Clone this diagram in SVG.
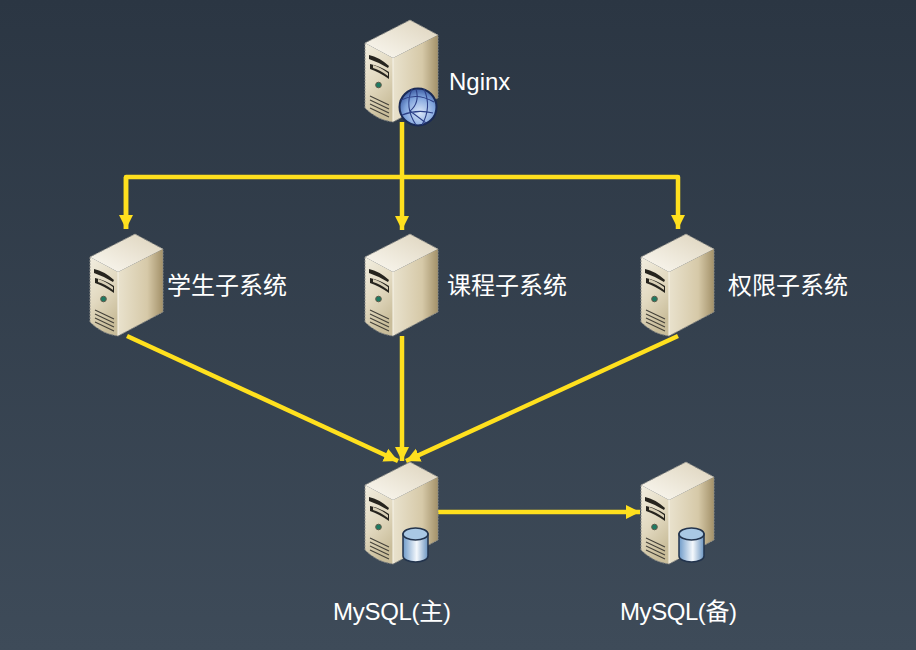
<svg xmlns="http://www.w3.org/2000/svg" width="916" height="650" viewBox="0 0 916 650">
<style>
.t{font-family:"Liberation Sans","Noto Sans CJK SC",sans-serif;font-size:24px;fill:#fff}
.c{fill:none;stroke:#ffe01e;stroke-width:4.500;stroke-linejoin:round}
.edge{fill:none;stroke:#8f8f8a;stroke-width:1;stroke-dasharray:2 1}
</style>
<defs>
<linearGradient id="bg" x1="0" y1="0" x2="0" y2="1"><stop offset="0" stop-color="#2b3643"/><stop offset="1" stop-color="#3e4b59"/></linearGradient>
<linearGradient id="front" x1="0" y1="0" x2="0.4" y2="1"><stop offset="0" stop-color="#f2eee0"/><stop offset="0.55" stop-color="#e2d9c0"/><stop offset="1" stop-color="#c9bd9a"/></linearGradient>
<linearGradient id="side" x1="0" y1="0" x2="1" y2="0"><stop offset="0" stop-color="#e9e2cd"/><stop offset="0.65" stop-color="#d6c9a8"/><stop offset="1" stop-color="#a39169"/></linearGradient>
<linearGradient id="top" x1="0" y1="1" x2="1" y2="0"><stop offset="0" stop-color="#fbf9f2"/><stop offset="1" stop-color="#ddd3bc"/></linearGradient>
<radialGradient id="globe" cx="0.55" cy="0.65" r="0.7"><stop offset="0" stop-color="#dbe7fa"/><stop offset="0.6" stop-color="#7fa3dc"/><stop offset="1" stop-color="#2c4a94"/></radialGradient>
<linearGradient id="cyl" x1="0" y1="0" x2="1" y2="0"><stop offset="0" stop-color="#6f9bc9"/><stop offset="0.55" stop-color="#f4f8fc"/><stop offset="1" stop-color="#6a94c0"/></linearGradient>
<marker id="a" markerUnits="userSpaceOnUse" markerWidth="15" markerHeight="15" refX="14" refY="7.500" orient="auto"><path d="M0 0.500L14 7.500L0 14.500Z" fill="#ffe01e"/></marker>
<g id="server">
<path d="M28 38L73 15V78L28 102Z" fill="url(#side)"/>
<path d="M0 23L28 38V102Q12 100 0 88Z" fill="url(#front)"/>
<path d="M0 23L45 0L73 15L28 38Z" fill="url(#top)"/>
<path d="M28 38V102" stroke="#f7f4ea" stroke-width="1"/>
<path class="edge" d="M0 23L45 0L73 15V78L28 102Q12 100 0 88Z"/>
<path d="M4 35Q14 37 24 46L23 48Q13 42 4 39ZM5 44Q15 46 24 52V59Q14 52 5 49Z" fill="#26241e"/>
<path d="M8 45Q15 47 23 53V56Q15 50 8 48Z" fill="#d8cfb6"/>
<circle cx="13.500" cy="65" r="2.800" fill="#1e7a62" stroke="#5e5b4a"/>
<path d="M5 76L24 85M5 80L24 89M5 84L24 93M5 88L24 97" fill="none" stroke="#45423a" stroke-width="1.100"/>
</g>
<g id="globeIcon">
<circle cx="53" cy="87" r="18.500" fill="url(#globe)" stroke="#1a2a55" stroke-width="2"/>
<path d="M36 80Q52 72 69 82M37 95Q52 89 68 93M47 69Q39 87 51 105M59 69Q67 87 57 105M51 69Q55 83 45 91Q53 97 61 103" fill="none" stroke="#2c3f86" stroke-width="1.100"/>
</g>
<g id="dbIcon">
<path d="M38 72V94A12.500 6 0 0 0 63 94V72Z" fill="url(#cyl)" stroke="#22334c" stroke-width="1.500"/>
<ellipse cx="50.500" cy="72" rx="12.500" ry="6" fill="#a9c8e4" stroke="#22334c" stroke-width="1.500"/>
</g>
</defs>
<rect width="916" height="650" fill="url(#bg)"/>
<g id="connectors">
<path class="c" d="M402 122V230" marker-end="url(#a)"/>
<path class="c" d="M126 229V177H678V229" marker-end="url(#a)"/>
<path class="c" d="M126 177V229" marker-end="url(#a)"/>
<path class="c" d="M127 336L398 461" marker-end="url(#a)"/>
<path class="c" d="M402 336V461" marker-end="url(#a)"/>
<path class="c" d="M678 336L406 461" marker-end="url(#a)"/>
<path class="c" d="M438 512H640" marker-end="url(#a)"/>
</g>
<g id="nginx"><use href="#server" x="365" y="20"/><use href="#globeIcon" x="365" y="20"/><text class="t" x="449" y="90">Nginx</text></g>
<g id="student"><use href="#server" x="90" y="234"/><text class="t" x="167" y="294">学生子系统</text></g>
<g id="course"><use href="#server" x="365" y="234"/><text class="t" x="447" y="294">课程子系统</text></g>
<g id="auth"><use href="#server" x="641" y="234"/><text class="t" x="728" y="294">权限子系统</text></g>
<g id="mysql-master"><use href="#server" x="365" y="462"/><use href="#dbIcon" x="365" y="462"/><text class="t" x="333" y="620" textLength="118">MySQL(主)</text></g>
<g id="mysql-backup"><use href="#server" x="641" y="462"/><use href="#dbIcon" x="641" y="462"/><text class="t" x="620" y="620" textLength="117">MySQL(备)</text></g>
</svg>
